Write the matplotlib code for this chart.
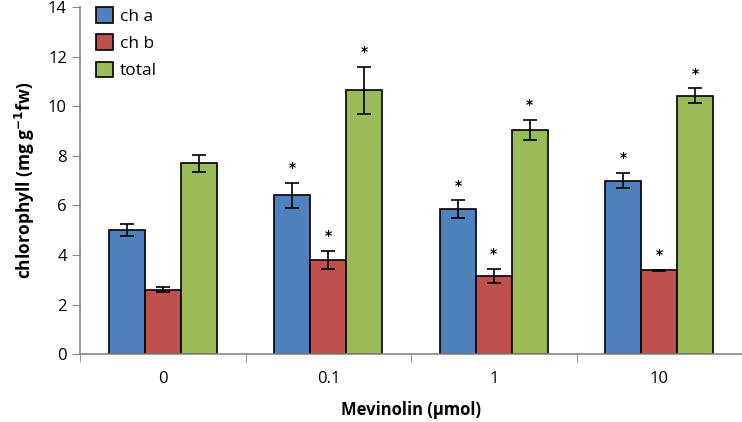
import numpy as np
import matplotlib.pyplot as plt

# data
doses = ['0', '0.1', '1', '10']
ch_a = [5.0, 6.4, 5.85, 7.0]
ch_a_err = [0.25, 0.5, 0.35, 0.3]
ch_b = [2.6, 3.8, 3.15, 3.38]
ch_b_err = [0.1, 0.35, 0.3, 0.03]
total = [7.7, 10.65, 9.05, 10.42]
total_err = [0.35, 0.95, 0.4, 0.3]
# significance stars (True = marked)
sig_a = [False, True, True, True]
sig_b = [False, True, True, True]
sig_t = [False, True, True, True]

plt.rcParams['font.family'] = ['Open Sans', 'DejaVu Sans']

fig = plt.figure(figsize=(7.42, 4.22), dpi=100)
ax = fig.add_axes([0.108, 0.161, 0.892, 0.822])

x = np.arange(len(doses))
w = 0.217
series = [
    (ch_a, ch_a_err, sig_a, '#4F81BD', 'ch a'),
    (ch_b, ch_b_err, sig_b, '#C0504D', 'ch b'),
    (total, total_err, sig_t, '#9BBB59', 'total'),
]
for k, (vals, errs, sig, col, lab) in enumerate(series):
    pos = x + (k - 1) * w
    ax.bar(pos, vals, w, color=col, edgecolor='black', linewidth=1.2, label=lab,
           yerr=errs, error_kw=dict(ecolor='black', elinewidth=1.2, capsize=5, capthick=1.2))
    for p, v, e, s in zip(pos, vals, errs, sig):
        if s:
            ax.text(p, v + e + 0.6, '*', ha='center', va='center', fontsize=10,
                    fontweight='bold', family='DejaVu Sans')

ax.set_xlim(-0.5, len(doses) - 0.5)
ax.set_ylim(0, 14)
ax.set_yticks(np.arange(0, 15, 2))
ax.set_xticks(x)
ax.set_xticklabels(doses)
ax.set_xticks(np.arange(-0.5, len(doses), 1), minor=True)
ax.tick_params(axis='x', which='major', length=0, pad=12, labelsize=12)
ax.tick_params(axis='x', which='minor', length=6, color='#868686')
ax.tick_params(axis='y', length=6, color='#868686', labelsize=12)

for side in ['top', 'right']:
    ax.spines[side].set_visible(False)
for side in ['left', 'bottom']:
    ax.spines[side].set_color('#868686')
    ax.spines[side].set_linewidth(1.2)

ax.set_xlabel('Mevinolin (\u03bcmol)', fontsize=12, fontweight='bold', labelpad=10)
ax.set_ylabel('chlorophyll (mg g$^{\\mathbf{-1}}$fw)', fontsize=12.5, fontweight='bold', labelpad=8)

ax.legend(loc='upper left', bbox_to_anchor=(0.0, 1.045), frameon=False, fontsize=12.5,
          handlelength=1.0, handleheight=1.0, labelspacing=0.55, handletextpad=0.4)

fig.savefig('out.png', dpi=100)
